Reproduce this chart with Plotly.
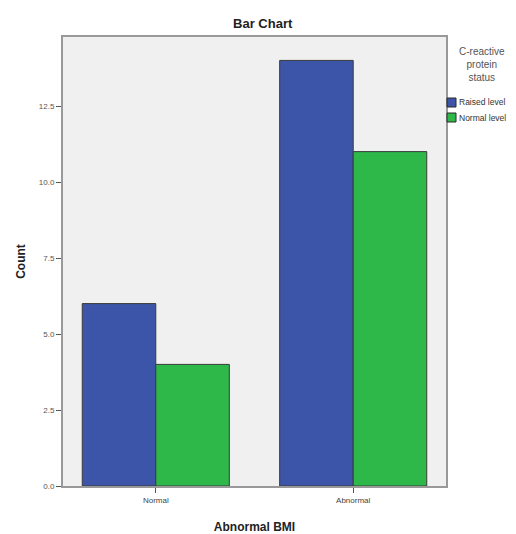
import plotly.graph_objects as go

categories = ["Normal", "Abnormal"]
series_names = ["Raised level", "Normal level"]
raised_counts = [6, 14]
normal_counts = [4, 11]
colors = ["#3D55A8", "#2EB84A"]
y_ticks = [0, 2.5, 5, 7.5, 10, 12.5]
y_tick_labels = ["0.0", "2.5", "5.0", "7.5", "10.0", "12.5"]

FONT = "Liberation Sans, Arial, sans-serif"
OFF = 8  # default page body margin
W, H = 516 - OFF, 534 - OFF
# plot area in screen pixels
X0, X1, Y0, Y1 = 63, 446, 37, 486
L, R, T, B = X0 - OFF, 516 - X1, Y0 - OFF, 534 - Y1
PW, PH = X1 - X0, Y1 - Y0


def px_x(x):
    return (x - X0) / PW


def px_y(y):
    return 1 - (y - Y0) / PH


fig = go.Figure()
for name, vals, col in zip(series_names, [raised_counts, normal_counts], colors):
    fig.add_trace(go.Bar(
        x=categories, y=vals, name=name,
        marker=dict(color=col, line=dict(color="#3a3a3a", width=1)),
    ))

# manual legend (swatches + labels) to the right of the plot area
shapes = []
annotations = []
for i, (name, col) in enumerate(zip(series_names, colors)):
    top = 98 + i * 15
    shapes.append(dict(type="rect", xref="paper", yref="paper",
                       x0=px_x(447), x1=px_x(456), y0=px_y(top + 9), y1=px_y(top),
                       fillcolor=col, line=dict(color="#2a2a2a", width=1)))
    annotations.append(dict(text=name, xref="paper", yref="paper",
                            x=px_x(457), y=px_y(top + 4.5), xanchor="left", yanchor="middle",
                            showarrow=False, font=dict(size=8.5, color="#333")))
annotations.append(dict(
    text="C-reactive<br>protein<br>status", xref="paper", yref="paper",
    x=px_x(482), y=px_y(44), xanchor="center", yanchor="top",
    showarrow=False, align="center", font=dict(size=10, color="#555"),
))

fig.update_layout(
    width=W, height=H,
    barmode="group", bargap=0.255, bargroupgap=0,
    paper_bgcolor="white", plot_bgcolor="#F0F0F0",
    margin=dict(l=L, r=R, t=T, b=B),
    font=dict(family=FONT, color="#222"),
    title=dict(text="<b>Bar Chart</b>", x=px_x(255), xanchor="center",
               y=1 - (23 - OFF) / H, yanchor="middle",
               font=dict(size=13, color="#222")),
    showlegend=False,
    xaxis=dict(
        range=[-0.47, 1.47], showgrid=False, automargin=False,
        showline=True, linecolor="#999", linewidth=2, mirror=True,
        ticks="outside", ticklen=5, tickcolor="#555",
        tickfont=dict(size=8, color="#444"),
        title=dict(text="<b>Abnormal BMI</b>", font=dict(size=12, color="#222"), standoff=20),
    ),
    yaxis=dict(
        range=[0, 14.77], showgrid=False, zeroline=False, automargin=False,
        tickvals=y_ticks, ticktext=y_tick_labels,
        showline=True, linecolor="#999", linewidth=2, mirror=True,
        ticks="outside", ticklen=5, tickcolor="#555",
        tickfont=dict(size=8, color="#555"),
        title=dict(text="<b>Count</b>", font=dict(size=12, color="#222"), standoff=11),
    ),
    shapes=shapes,
    annotations=annotations,
)

fig.write_html("out.html")
